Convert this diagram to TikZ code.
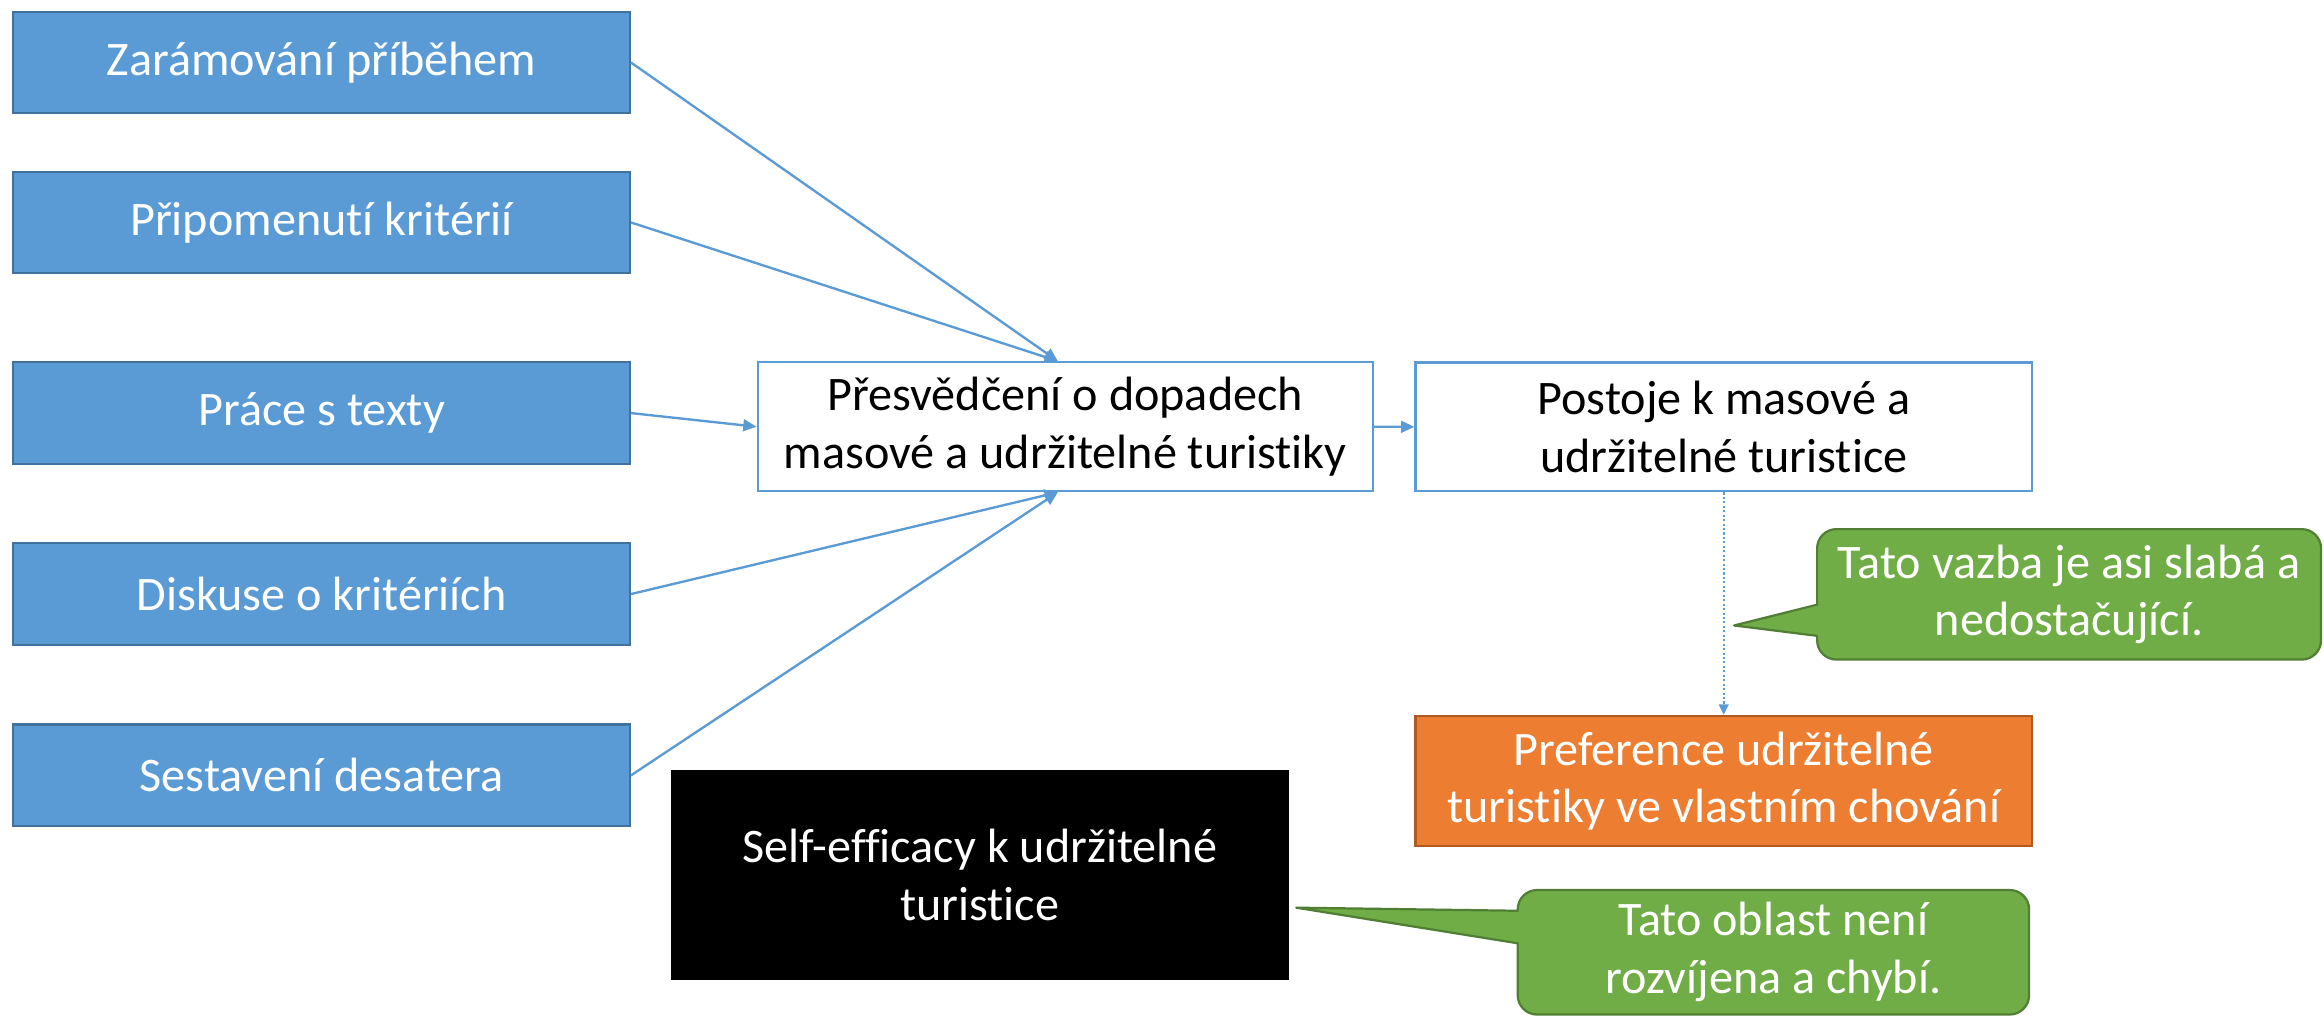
\documentclass[tikz,border=0pt]{standalone}
\usepackage{fontspec}
\setmainfont[Ligatures=NoCommon]{Carlito}
\usetikzlibrary{arrows.meta}
\definecolor{bfill}{HTML}{5B9BD5}
\definecolor{bdark}{HTML}{41719C}
\definecolor{bline}{HTML}{5B9BD5}
\definecolor{ofill}{HTML}{ED7D31}
\definecolor{odark}{HTML}{AE5A21}
\definecolor{gfill}{HTML}{70AD47}
\definecolor{gdark}{HTML}{507E32}
\begin{document}
\begin{tikzpicture}[x=1pt,y=-1pt,
  every node/.style={font=\fontsize{32.5}{39}\selectfont, align=center, inner sep=0pt},
  srcbox/.style={draw=bdark, fill=bfill, line width=1.5pt, minimum width=416pt, minimum height=68.5pt, text=white},
  whitebox/.style={draw=bline, fill=white, line width=1.5pt, minimum width=415pt, minimum height=87pt, text=black},
  orangebox/.style={draw=odark, fill=ofill, line width=1.5pt, minimum width=416pt, minimum height=88pt, text=white},
  blackbox/.style={draw=black, fill=black, line width=1pt, minimum width=416pt, minimum height=141pt, text=white},
  callout/.style={draw=gdark, fill=gfill, line width=1.5pt, rounded corners=13pt, text=white},
  conn/.style={draw=bline, line width=1.6pt, -{Triangle[length=9pt,width=8pt]}},
  dotconn/.style={draw=bline, line width=1.4pt, dash pattern=on 1.4pt off 1.6pt, -{Triangle[length=7pt,width=6.5pt]}}
]
\useasboundingbox (0,0) rectangle (1568,685.5);

% source boxes
\node[srcbox] (s1) at (217,42.2) {Zarámování příběhem};
\node[srcbox] (s2) at (217,150.1) {Připomenutí kritérií};
\node[srcbox] (s3) at (217,278.7) {Práce s texty};
\node[srcbox] (s4) at (217,400.8) {Diskuse o kritériích};
\node[srcbox] (s5) at (217,523.1) {Sestavení desatera};

% main chain
\node[whitebox] (c) at (718.7,287.9) {Přesvědčení o dopadech\\masové a udržitelné turistiky};
\node[whitebox, minimum width=416pt] (p) at (1163,288) {Postoje k masové a\\udržitelné turistice};
\node[orangebox] (o) at (1163,527) {Preference udržitelné\\turistiky ve vlastním chování};
\node[blackbox] (k) at (661,590.5) {Self-efficacy k udržitelné\\turistice};

% callouts
\node[callout, minimum width=340pt, minimum height=88pt] (g1) at (1396,401) {Tato vazba je asi slabá a\\nedostačující.};
\node[callout, minimum width=345pt, minimum height=84pt] (g2) at (1196.5,642.5) {Tato oblast není\\rozvíjena a chybí.};

\coordinate (g1tip) at (1170,422);
\coordinate (g1a) at (1226,408);
\coordinate (g1b) at (1226,429);
\coordinate (g1ai) at (1229,408);
\coordinate (g1bi) at (1229,429);
\fill[gfill] (g1ai) -- (g1tip) -- (g1bi) -- cycle;
\draw[gdark, line width=1.5pt, line join=round] (g1a) -- (g1tip) -- (g1b);

\coordinate (g2tip) at (874.6,612.4);
\coordinate (g2a) at (1024.5,614.5);
\coordinate (g2b) at (1024.5,636.5);
\coordinate (g2ai) at (1027.5,614.5);
\coordinate (g2bi) at (1027.5,636.5);
\fill[gfill] (g2ai) -- (g2tip) -- (g2bi) -- cycle;
\draw[gdark, line width=1.5pt, line join=round] (g2a) -- (g2tip) -- (g2b);

% connectors
\coordinate (ctop) at ([xshift=-5pt]c.north);
\coordinate (cbot) at ([xshift=-5pt]c.south);
\draw[conn] (s1.east) -- (ctop);
\draw[conn] (s2.east) -- (ctop);
\draw[conn] (s3.east) -- (c.west);
\draw[conn] (s4.east) -- (cbot);
\draw[conn] (s5.east) -- (cbot);
\draw[conn] (c.east) -- (p.west);
\draw[dotconn] (p.south) -- (o.north);
\end{tikzpicture}
\end{document}
